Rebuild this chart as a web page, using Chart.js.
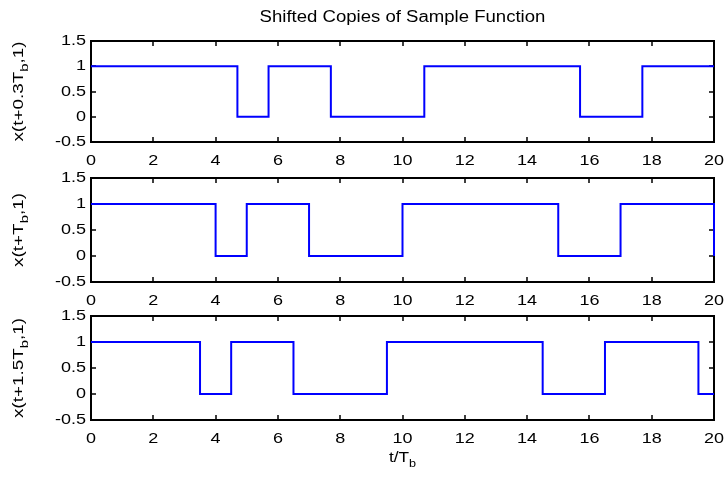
<!DOCTYPE html>
<html>
<head>
<meta charset="utf-8">
<script src="https://cdn.jsdelivr.net/npm/chart.js@4.4.0/dist/chart.umd.min.js"></script>
<style>
  html, body { margin: 0; padding: 0; background: #fff; }
  #fig { position: relative; width: 726px; height: 477px; }
  #fig canvas { position: absolute; left: 0; top: 0; }
</style>
</head>
<body>
<div id="fig">
  <canvas id="panel1" width="726" height="477"></canvas>
  <canvas id="panel2" width="726" height="477"></canvas>
  <canvas id="panel3" width="726" height="477"></canvas>
</div>
<script>
// tick values shared by all three panels
const xTickValues = [0, 2, 4, 6, 8, 10, 12, 14, 16, 18, 20];
const yTickValues = [-0.5, 0, 0.5, 1, 1.5];

// switching instants (t/Tb) and the level held from each instant on
const edges03 = [0, 4.7, 5.7, 7.7, 10.7, 15.7, 17.7, 20];
const levels03 = [1, 0, 1, 0, 1, 0, 1, 1];

const edges10 = [0, 4, 5, 7, 10, 15, 17, 20];
const levels10 = [1, 0, 1, 0, 1, 0, 1, 0];

const edges15 = [0, 3.5, 4.5, 6.5, 9.5, 14.5, 16.5, 19.5, 20];
const levels15 = [1, 0, 1, 0, 1, 0, 1, 0, 0];

const FONT = 'Liberation Sans, Arial, sans-serif';

// text made of [string, isSubscript] pieces, centred on (0,0), widened by sx
function drawSubText(ctx, parts, size, sx) {
    const subSize = Math.round(size * 0.75);
    let total = 0;
    const widths = parts.map(([s, sub]) => {
        ctx.font = (sub ? subSize : size) + 'px ' + FONT;
        const w = ctx.measureText(s).width;
        total += w;
        return w;
    });
    ctx.save();
    ctx.scale(sx, 1);
    let x = -total / 2;
    ctx.textAlign = 'left';
    ctx.textBaseline = 'middle';
    parts.forEach(([s, sub], i) => {
        ctx.font = (sub ? subSize : size) + 'px ' + FONT;
        ctx.fillText(s, x, sub ? size * 0.4 : 0);
        x += widths[i];
    });
    ctx.restore();
}

function drawLabel(ctx, text, x, y, align, sx) {
    ctx.save();
    ctx.translate(x, y);
    ctx.scale(sx, 1);
    ctx.textAlign = align;
    ctx.textBaseline = 'middle';
    ctx.fillText(text, 0, 0);
    ctx.restore();
}

// box around the axes, inward ticks on all four sides, tick labels and titles
const framePlugin = {
    id: 'frame',
    beforeDatasetsDraw(chart) {
        const { ctx, chartArea: a, scales } = chart;
        ctx.save();
        ctx.strokeStyle = '#000';
        ctx.lineWidth = 1.5;
        const tl = 5;
        ctx.beginPath();
        scales.x.ticks.forEach(t => {
            const px = Math.round(scales.x.getPixelForValue(t.value));
            if (px <= a.left + 1 || px >= a.right - 1) return;
            ctx.moveTo(px, a.bottom); ctx.lineTo(px, a.bottom - tl);
            ctx.moveTo(px, a.top); ctx.lineTo(px, a.top + tl);
        });
        scales.y.ticks.forEach(t => {
            const py = Math.round(scales.y.getPixelForValue(t.value));
            if (py <= a.top + 1 || py >= a.bottom - 1) return;
            ctx.moveTo(a.left, py); ctx.lineTo(a.left + tl, py);
            ctx.moveTo(a.right, py); ctx.lineTo(a.right - tl, py);
        });
        ctx.stroke();
        ctx.lineWidth = 2;
        ctx.strokeRect(a.left, a.top, a.right - a.left, a.bottom - a.top);
        ctx.restore();
    },
    afterDraw(chart, args, opts) {
        const { ctx, chartArea: a, scales } = chart;
        ctx.save();
        ctx.fillStyle = '#000';
        ctx.font = '15px ' + FONT;
        scales.x.ticks.forEach(t => {
            drawLabel(ctx, String(t.value), scales.x.getPixelForValue(t.value), a.bottom + 19, 'center', 1.2);
        });
        scales.y.ticks.forEach(t => {
            drawLabel(ctx, String(t.value), a.left - 5, scales.y.getPixelForValue(t.value), 'right', 1.2);
        });
        if (opts.ylabel) {
            ctx.save();
            ctx.translate(19, (a.top + a.bottom) / 2);
            ctx.rotate(-Math.PI / 2);
            drawSubText(ctx, opts.ylabel, 14, 1.35);
            ctx.restore();
        }
        if (opts.title) {
            ctx.font = '16px ' + FONT;
            drawLabel(ctx, opts.title, (a.left + a.right) / 2, 18, 'center', 1.16);
        }
        if (opts.xlabel) {
            ctx.save();
            ctx.translate((a.left + a.right) / 2, a.bottom + 38);
            drawSubText(ctx, opts.xlabel, 15, 1.15);
            ctx.restore();
        }
        ctx.restore();
    }
};

function makePanel(id, edges, levels, top, bottom, frame) {
    const points = edges.map((t, i) => ({ x: t, y: levels[i] }));
    return new Chart(document.getElementById(id), {
        type: 'line',
        data: {
            datasets: [{
                data: points,
                stepped: 'before',
                borderColor: '#0000ff',
                borderWidth: 2,
                pointRadius: 0,
                fill: false,
                clip: 4
            }]
        },
        options: {
            responsive: false,
            animation: false,
            devicePixelRatio: 1,
            layout: { padding: { left: 0, right: 12, top: top, bottom: 477 - bottom - 20 } },
            plugins: {
                legend: { display: false },
                tooltip: { enabled: false },
                frame: frame
            },
            scales: {
                x: {
                    type: 'linear',
                    min: 0,
                    max: 20,
                    afterBuildTicks: s => { s.ticks = xTickValues.map(v => ({ value: v })); },
                    afterFit: s => { s.height = 20; },
                    grid: { display: false, drawTicks: false },
                    border: { display: false },
                    ticks: { display: false }
                },
                y: {
                    type: 'linear',
                    min: -0.5,
                    max: 1.5,
                    afterBuildTicks: s => { s.ticks = yTickValues.map(v => ({ value: v })); },
                    afterFit: s => { s.width = 91; },
                    grid: { display: false, drawTicks: false },
                    border: { display: false },
                    ticks: { display: false }
                }
            }
        },
        plugins: [framePlugin]
    });
}

makePanel('panel1', edges03, levels03, 41, 142, {
    title: 'Shifted Copies of Sample Function',
    ylabel: [['x(t+0.3T', false], ['b', true], [',1)', false]]
});
makePanel('panel2', edges10, levels10, 178, 282, {
    ylabel: [['x(t+T', false], ['b', true], [',1)', false]]
});
makePanel('panel3', edges15, levels15, 316, 420, {
    ylabel: [['x(t+1.5T', false], ['b', true], [',1)', false]],
    xlabel: [['t/T', false], ['b', true]]
});
</script>
</body>
</html>
